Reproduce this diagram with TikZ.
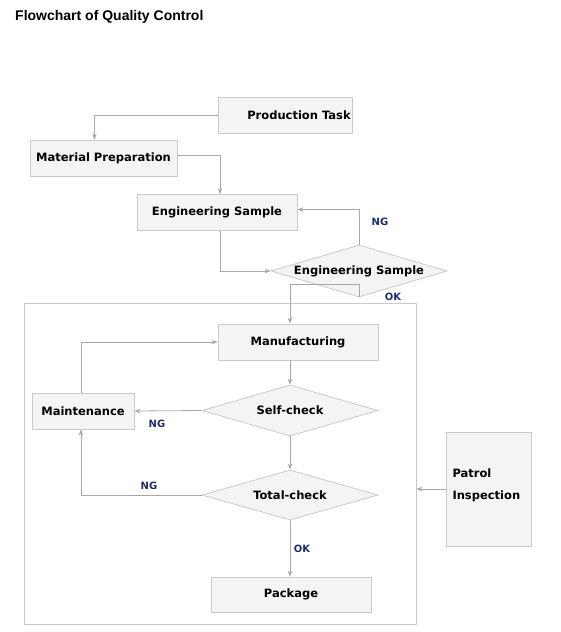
\documentclass[tikz,border=0pt]{standalone}
\usepackage{fontspec}
\setmainfont{DejaVu Sans}
\newfontfamily\titlefont{Liberation Sans}
\usetikzlibrary{shapes.geometric,arrows.meta}
\definecolor{boxfill}{HTML}{F4F4F4}
\definecolor{boxline}{HTML}{CACACA}
\definecolor{wire}{HTML}{A8A8A8}
\definecolor{lab}{HTML}{1F2A6A}
\tikzset{
  stepbox/.style={draw=boxline, fill=boxfill, line width=0.8pt, inner sep=0pt,
    font=\fontsize{11.5}{14}\selectfont\bfseries},
  decis/.style={diamond, draw=boxline, fill=boxfill, line width=0.8pt, inner sep=0pt,
    aspect=3.4, font=\fontsize{11.5}{14}\selectfont\bfseries},
  wireline/.style={draw=wire, line width=0.8pt, -{Stealth[length=6pt,width=4.5pt]}},
  tag/.style={text=lab, font=\fontsize{10}{12}\selectfont\bfseries}
}
\begin{document}
\begin{tikzpicture}[x=1pt,y=-1pt]
\useasboundingbox (0,0) rectangle (560,632);
\fill[white] (0,0) rectangle (560,632);
\node[anchor=west, inner sep=0pt, font=\titlefont\fontsize{14}{16}\selectfont\bfseries] (title) at (15,17) {Flowchart of Quality Control};

\node[draw=boxline, line width=0.8pt, minimum width=392pt, minimum height=321pt, inner sep=0pt] (frame) at (220,463.5) {};

\node[stepbox, minimum width=134pt, minimum height=36pt] (task) at (285,115) {\hspace*{28pt}Production Task};
\node[stepbox, minimum width=147pt, minimum height=36pt] (mat) at (103.5,158) {Material Preparation};
\node[stepbox, minimum width=160pt, minimum height=36pt] (es) at (217,212.5) {Engineering Sample};
\node[decis, minimum width=176pt, minimum height=52pt] (esd) at (359,271) {Engineering Sample};
\node[stepbox, minimum width=160pt, minimum height=36pt] (mfg) at (298,342) {Manufacturing};
\node[decis, minimum width=176pt, minimum height=51pt] (sc) at (290,410.5) {Self-check};
\node[stepbox, minimum width=102pt, minimum height=36pt] (mnt) at (83,411) {Maintenance};
\node[decis, minimum width=176pt, minimum height=50pt] (tc) at (290,495) {Total-check};
\node[stepbox, minimum width=160pt, minimum height=35pt] (pkg) at (291,594.5) {Package};
\node[stepbox, minimum width=85pt, minimum height=114pt, align=left, text width=72pt] (patrol) at (488.5,489) {Patrol\\[8pt]Inspection\\[-4pt]\mbox{}};

\draw[wireline] (task.west) -| ([xshift=-9pt]mat.north);
\draw[wireline] ([yshift=2.5pt]mat.east) -| ([xshift=3pt]es.north);
\draw[wireline] ([xshift=3pt]es.south) |- (esd.west);
\draw[wireline] (esd.north) |- ([yshift=3pt]es.east);
\coordinate (okturn) at ([yshift=13pt]esd.south);
\draw[wireline] (esd.south) -- (okturn) -| ([xshift=-8pt]mfg.north);
\draw[wireline] ([xshift=-8pt]mfg.south) -- (sc.north);
\draw[wireline] (sc.west) -- (mnt.east);
\draw[wireline] ([xshift=-2pt]mnt.north) |- (mfg.west);
\draw[wireline] (sc.south) -- (tc.north);
\draw[wireline] (tc.west) -| ([xshift=-2pt]mnt.south);
\draw[wireline] (tc.south) -- (tc.south |- pkg.north);
\draw[wireline] (patrol.west) -- (patrol.west -| frame.east);

\node[tag] (ng1) at (380,222) {NG};
\node[tag] (ok1) at (393,297) {OK};
\node[tag] (ng2) at (157,424) {NG};
\node[tag] (ng3) at (149,486) {NG};
\node[tag] (ok2) at (302,549) {OK};
\end{tikzpicture}
\end{document}
